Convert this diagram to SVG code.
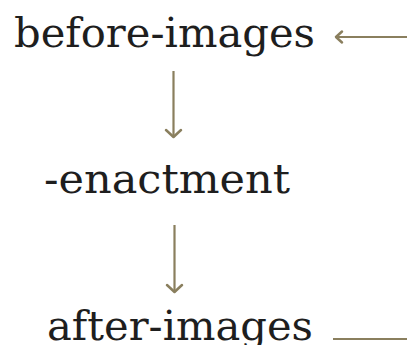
<svg xmlns="http://www.w3.org/2000/svg" width="407" height="345" viewBox="0 0 407 345">
<defs>
<style>
.t{font-family:"DejaVu Serif","Liberation Serif",serif;font-size:41px;fill:#1e1e1e}
.c{stroke:#8a7f5e;stroke-width:2.2;fill:none}
.h{stroke:#8a7f5e;stroke-width:2.5;fill:none;stroke-linecap:round;stroke-linejoin:round}
</style>
</defs>
<rect width="407" height="345" fill="#ffffff"/>
<g id="before-images"><text class="t" x="14" y="47" textLength="301" lengthAdjust="spacingAndGlyphs">before-images</text></g>
<g id="enactment"><text class="t" x="44" y="193" textLength="246" lengthAdjust="spacingAndGlyphs">-enactment</text></g>
<g id="after-images"><text class="t" x="47" y="340" textLength="266" lengthAdjust="spacingAndGlyphs">after-images</text></g>
<g id="connectors">
<line class="c" x1="407" y1="37" x2="336" y2="37"/>
<polyline class="h" points="342,31.5 336,37 342,42.5"/>
<line class="c" x1="173.5" y1="71" x2="173.5" y2="137"/>
<polyline class="h" points="166,130 173.5,137 181,130"/>
<line class="c" x1="174.5" y1="225" x2="174.5" y2="292"/>
<polyline class="h" points="167,285 174.5,292 182,285"/>
<line class="c" x1="333" y1="339" x2="407" y2="339"/>
</g>
</svg>
